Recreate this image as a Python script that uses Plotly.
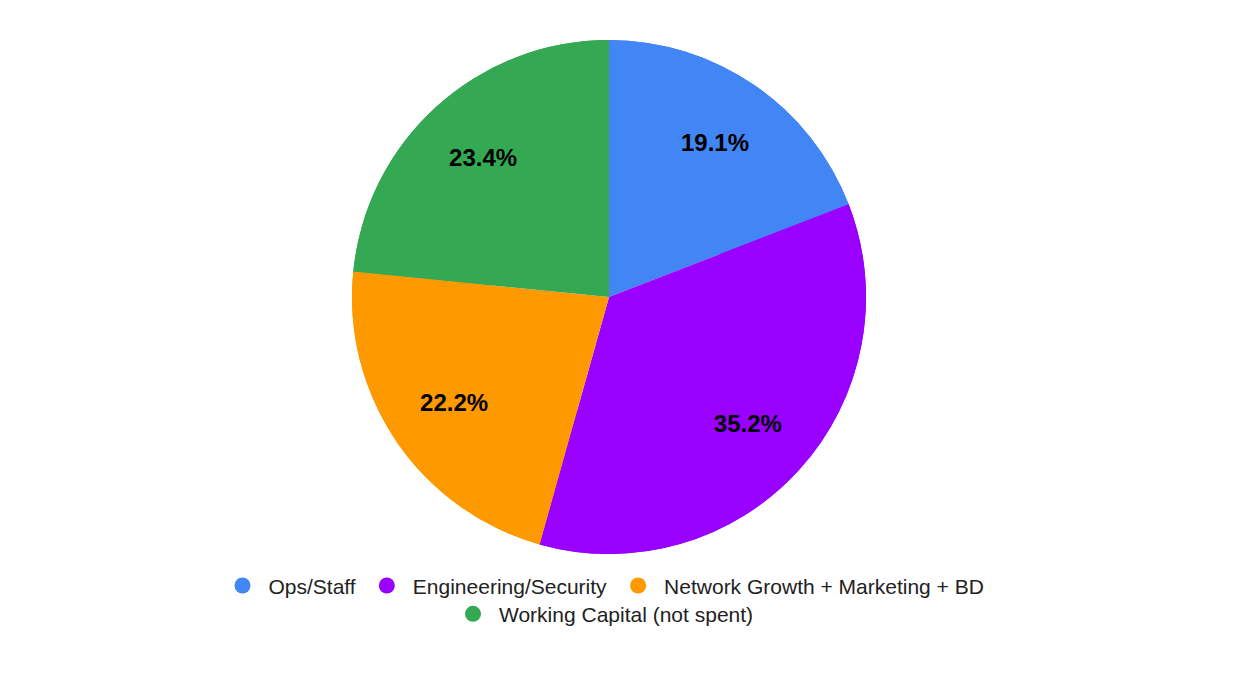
import plotly.graph_objects as go

labels = ["Ops/Staff", "Engineering/Security", "Network Growth + Marketing + BD", "Working Capital (not spent)"]
values = [19.1, 35.2, 22.2, 23.4]
colors = ["#4285F4", "#9900FF", "#FF9900", "#34A853"]
legend_rows = ["legend", "legend", "legend", "legend2"]

W, H = 1243, 682
cx = 601 / W
lx = 595 / W
dom = dict(x=[cx - 0.3, cx + 0.3], y=[0, 1])
font = "Liberation Sans, Arial, sans-serif"

fig = go.Figure()
# full pie underneath (no text)
fig.add_trace(go.Pie(
    labels=labels, values=values, sort=False, direction="clockwise", rotation=0,
    marker=dict(colors=colors, line=dict(width=0)),
    textinfo="none", showlegend=False, hoverinfo="skip", domain=dom,
))
# ring on top carrying the labels at ~0.73 of the radius
fig.add_trace(go.Pie(
    labels=labels, values=values, sort=False, direction="clockwise", rotation=0,
    hole=0.46,
    marker=dict(colors=colors, line=dict(width=0)),
    texttemplate="%{percent:.1%}", textposition="inside", insidetextorientation="horizontal",
    textfont=dict(family=font, size=24, color="black", weight="bold"),
    showlegend=False, hoverinfo="label+percent", domain=dom,
))
for lab, col, lg in zip(labels, colors, legend_rows):
    fig.add_trace(go.Scatter(
        x=[None], y=[None], mode="markers", name=lab,
        marker=dict(symbol="circle", size=18, color=col),
        legend=lg, showlegend=True,
    ))

legfont = dict(family=font, size=21, color="#222222")
fig.update_layout(
    width=W, height=H,
    margin=dict(l=0, r=0, t=32, b=136),
    paper_bgcolor="white", plot_bgcolor="white",
    xaxis=dict(visible=False), yaxis=dict(visible=False),
    legend=dict(orientation="h", x=lx, xanchor="center", y=-0.062, yanchor="middle",
                font=legfont, bgcolor="rgba(0,0,0,0)", itemwidth=42),
    legend2=dict(orientation="h", x=lx, xanchor="center", y=-0.117, yanchor="middle",
                 font=legfont, bgcolor="rgba(0,0,0,0)", itemwidth=42),
)
fig.write_html("out.html")
